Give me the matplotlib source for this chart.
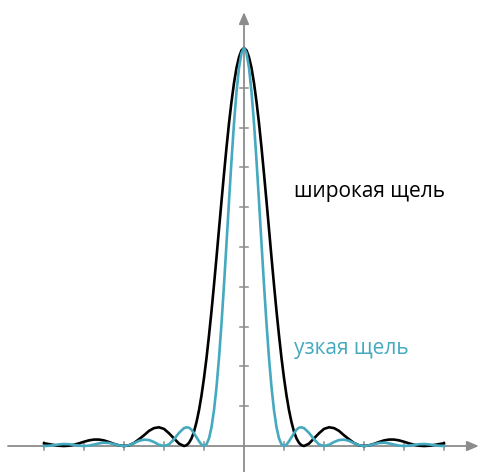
import numpy as np
import matplotlib
matplotlib.use("Agg")
import matplotlib.pyplot as plt

# половина кривой (x >= 0), деления по оси x через 1;
# у центрального максимума точки чаще
x_half = np.concatenate([np.arange(0, 1.5001, 0.0625),
                         np.arange(1.625, 5.001, 0.125)])

# узкая щель (голубая)
narrow_half = [1.0, 0.987, 0.950, 0.890, 0.811, 0.717, 0.615, 0.509, 0.405,
               0.308, 0.221, 0.148, 0.090, 0.047, 0.019, 0.0044, 0.0,
               0.0034, 0.012, 0.022, 0.032, 0.041, 0.046, 0.047, 0.045,
               0.033, 0.017, 0.004, 0.0,
               0.003, 0.010, 0.015, 0.016, 0.013, 0.007, 0.002, 0.0,
               0.0015, 0.0048, 0.0076, 0.0083, 0.0066, 0.0036, 0.001, 0.0,
               0.0009, 0.0028, 0.0045, 0.005, 0.004, 0.0023, 0.0006, 0.0]

# широкая щель (чёрная)
wide_half = [1.0, 0.994, 0.977, 0.950, 0.912, 0.865, 0.811, 0.750, 0.684,
             0.615, 0.545, 0.474, 0.405, 0.339, 0.278, 0.221, 0.171,
             0.127, 0.090, 0.060, 0.036, 0.019, 0.008, 0.0019, 0.0,
             0.006, 0.019, 0.032, 0.043, 0.047, 0.045, 0.038, 0.027,
             0.017, 0.0075, 0.0019, 0.0,
             0.0016, 0.0054, 0.010, 0.014, 0.0162, 0.0162, 0.0142, 0.0107,
             0.0067, 0.0032, 0.0008, 0.0,
             0.0007, 0.0025, 0.0048, 0.0068]

x = np.concatenate([-x_half[::-1], x_half[1:]])
narrow = np.concatenate([narrow_half[::-1], narrow_half[1:]])
wide = np.concatenate([wide_half[::-1], wide_half[1:]])

x_ticks = [-5, -4, -3, -2, -1, 1, 2, 3, 4, 5]
y_ticks = [0.1 * k for k in range(1, 10)]

cyan = "#45a9bf"
grey = "#8c8c8c"

fig = plt.figure(figsize=(4.79, 4.72), dpi=100)
ax = fig.add_axes([0, 0, 1, 1])
ax.set_xlim(-6.1, 5.875)
ax.set_ylim(-0.0653, 1.1206)
ax.axis("off")

# оси со стрелками
ax.annotate("", xy=(5.87, 0), xytext=(-5.9, 0),
            arrowprops=dict(arrowstyle="-|>,head_length=0.7,head_width=0.3",
                            color=grey, lw=1.3, shrinkA=0, shrinkB=0))
ax.annotate("", xy=(0, 1.09), xytext=(0, -0.07),
            arrowprops=dict(arrowstyle="-|>,head_length=0.7,head_width=0.3",
                            color=grey, lw=1.3, shrinkA=0, shrinkB=0))

# деления
for t in x_ticks:
    ax.plot([t, t], [-0.009, 0.009], color=grey, lw=1.1)
for t in y_ticks:
    ax.plot([-0.09, 0.09], [t, t], color=grey, lw=1.1)

ax.plot(x, wide, color="black", lw=1.9, zorder=3)
ax.plot(x, narrow, color=cyan, lw=1.9, zorder=4)

ax.text(1.25, 0.64, "широкая щель", fontsize=15, color="black",
        family="Open Sans", va="center", ha="left")
ax.text(1.25, 0.245, "узкая щель", fontsize=15, color=cyan,
        family="Open Sans", va="center", ha="left")

fig.savefig("out.png", dpi=100)
